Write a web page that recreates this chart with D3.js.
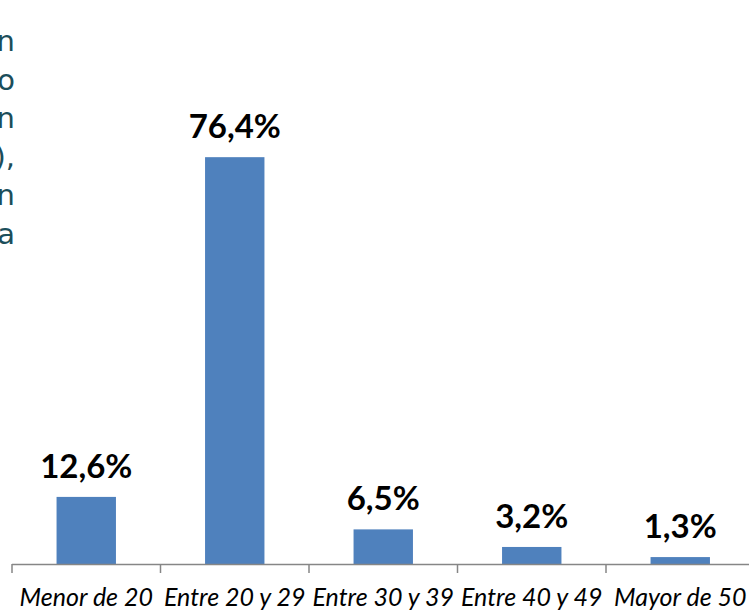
<!DOCTYPE html>
<html>
<head>
<meta charset="utf-8">
<script src="https://cdnjs.cloudflare.com/ajax/libs/d3/7.8.5/d3.min.js"></script>
<style>
  body { margin: 0; background: #fff; }
  svg { display: block; }
</style>
</head>
<body>
<div id="container"></div>
<script>
// data
const categories = ["Menor de 20", "Entre 20 y 29", "Entre 30 y 39", "Entre 40 y 49", "Mayor de 50"];
const values = [12.6, 76.4, 6.5, 3.2, 1.3];
const valueLabels = ["12,6%", "76,4%", "6,5%", "3,2%", "1,3%"];
// right-hand ends of the paragraph cut off on the left
const sideText = ["n", "o", "n", "),", "n", "a"];

const w = 749, h = 611;
const baseY = 564;

const svg = d3.select("#container")
  .append("svg")
  .attr("width", w)
  .attr("height", h);

const x = d3.scaleBand()
  .domain(categories)
  .range([12, 754.5])
  .paddingInner(0.6)
  .paddingOuter(0.3);

const y = d3.scaleLinear()
  .domain([0, 80])
  .range([baseY, 138]);

// cut-off text on the left
svg.append("g")
  .selectAll("text")
  .data(sideText)
  .enter()
  .append("text")
  .attr("x", 15)
  .attr("y", (d, i) => 51 + i * 38.5)
  .attr("text-anchor", "end")
  .style("font-family", "'DejaVu Sans', Verdana, sans-serif")
  .style("font-size", "29px")
  .style("fill", "#1b4e5b")
  .text(d => d);

// bars
svg.selectAll("rect.bar")
  .data(values)
  .enter()
  .append("rect")
  .attr("class", "bar")
  .attr("x", (d, i) => x(categories[i]))
  .attr("y", d => y(d))
  .attr("width", x.bandwidth())
  .attr("height", d => baseY - y(d))
  .attr("fill", "#4f81bd");

// value labels
svg.selectAll("text.val")
  .data(values)
  .enter()
  .append("text")
  .attr("class", "val")
  .attr("x", (d, i) => x(categories[i]) + x.bandwidth() / 2)
  .attr("y", d => y(d) - 19)
  .attr("text-anchor", "middle")
  .style("font-family", "Lato, 'Open Sans', sans-serif")
  .style("font-weight", "bold")
  .style("font-size", "33px")
  .style("fill", "#000")
  .text((d, i) => valueLabels[i]);

// x axis: line, ticks between categories, italic labels
const axis = svg.append("g").attr("id", "x-axis");
const step = x.step();
const edge0 = x(categories[0]) - step * 0.3;

axis.append("line")
  .attr("x1", edge0)
  .attr("x2", w)
  .attr("y1", baseY + 0.5)
  .attr("y2", baseY + 0.5)
  .attr("stroke", "#868686")
  .attr("stroke-width", 1.5);

axis.selectAll("line.tick")
  .data(d3.range(categories.length + 1))
  .enter()
  .append("line")
  .attr("class", "tick")
  .attr("x1", i => edge0 + i * step)
  .attr("x2", i => edge0 + i * step)
  .attr("y1", baseY)
  .attr("y2", baseY + 9)
  .attr("stroke", "#868686")
  .attr("stroke-width", 1.5);

axis.selectAll("text")
  .data(categories)
  .enter()
  .append("text")
  .attr("x", d => x(d) + x.bandwidth() / 2)
  .attr("y", 606)
  .attr("text-anchor", "middle")
  .style("font-family", "Lato, 'Open Sans', sans-serif")
  .style("font-style", "italic")
  .style("font-size", "25px")
  .style("fill", "#000")
  .text(d => d);
</script>
</body>
</html>
